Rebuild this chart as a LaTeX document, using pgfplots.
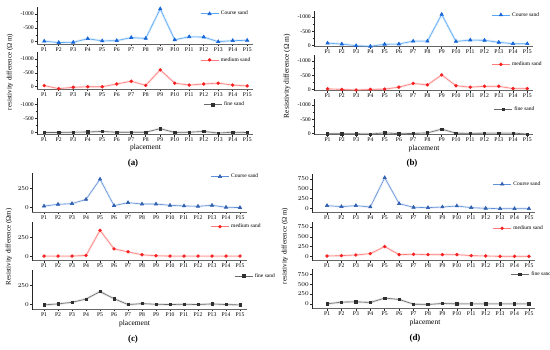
\documentclass[border=0pt]{standalone}
\usepackage{fontspec}
\setmainfont{Liberation Serif}
\usepackage{pgfplots}
\usepackage{pgfplotstable}
\pgfplotsset{compat=1.18}

\definecolor{cbL}{HTML}{5AA8F5}
\definecolor{cbM}{HTML}{1565D8}
\definecolor{cbbL}{HTML}{5F8FD6}
\definecolor{cbbM}{HTML}{2F5FAF}
\definecolor{crL}{HTML}{FF7A7A}
\definecolor{crM}{HTML}{F52020}
\definecolor{ckL}{HTML}{6A6A6A}
\definecolor{ckM}{HTML}{303030}

% panel (a): x c(coarse) m(medium) f(fine)
\pgfplotstableread{
x c m f
1 -20 -40 10
2 30 70 10
3 20 20 0
4 -110 0 -10
5 -30 0 -30
6 -40 -100 0
7 -150 -200 0
8 -120 -50 0
9 -1190 -610 -130
10 -70 -130 10
11 -180 -60 0
12 -170 -100 -30
13 0 -130 30
14 -40 -60 0
15 -50 -30 10
}\ta
% panel (b)
\pgfplotstableread{
x c m f
1 -80 -20 10
2 -50 0 10
3 10 20 10
4 30 0 20
5 -40 -10 -20
6 -50 -80 10
7 -150 -210 0
8 -150 -160 -20
9 -1090 -510 -150
10 -140 -130 -10
11 -190 -80 0
12 -180 -110 -10
13 -110 -110 -10
14 -60 -30 -10
15 -60 -30 20
}\tb
% panel (c)
\pgfplotstableread{
x c m f
1 20 0 -4
2 43 0 9
3 52 0 30
4 108 9 73
5 375 340 172
6 26 95 78
7 65 56 0
8 47 17 13
9 47 4 4
10 30 0 0
11 22 0 4
12 17 0 0
13 30 0 9
14 4 0 0
15 0 0 -4
}\tc
% panel (d)
\pgfplotstableread{
x c m f
1 69 9 0
2 43 17 43
3 69 34 52
4 34 69 34
5 784 250 147
6 120 43 112
7 26 52 -9
8 17 43 -17
9 34 43 9
10 60 43 0
11 17 17 0
12 0 9 0
13 -9 0 0
14 -9 0 0
15 -9 0 0
}\td

\pgfplotsset{
  sub/.style={scale only axis, anchor=south west, clip=false,
    axis x line=bottom, axis y line=left,
    x axis line style={-, line width=1bp, draw=black!60},
    y axis line style={-, line width=0.6bp, draw=black!85},
    xtick={1,...,15},
    xticklabels={P1,P2,P3,P4,P5,P6,P7,P8,P9,P10,P11,P12,P13,P14,P15},
    tick align=outside, major tick length=2bp, minor tick length=1.2bp,
    tick style={line width=0.5bp, black!85},
    ticklabel style={font=\fontsize{5.7}{6}\selectfont, inner sep=1bp},
    legend style={draw=none, fill=none, anchor=west,
      font=\fontsize{5.5}{6}\selectfont, inner sep=0pt},
    legend cell align=left,
    legend image code/.code={\draw[mark repeat=2,mark phase=2] plot coordinates {(0bp,0bp) (9bp,0bp) (18bp,0bp)};},
  },
  negy/.style={ytick={0,500,1000}, yticklabels={0,-500,-1000}, minor ytick={250,750}},
  posy/.style={yticklabel style={font=\fontsize{6.3}{7}\selectfont}},
  cband/.style={cbL, line width=2.4bp, opacity=0.22, forget plot},
  cs/.style={cbL, line width=0.6bp, mark=triangle*, mark size=1.9bp, mark options={fill=cbM, draw=cbM, solid}},
  ccband/.style={cbbL, line width=2.4bp, opacity=0.15, forget plot},
  ccs/.style={cbbL, line width=0.6bp, mark=triangle*, mark size=1.9bp, mark options={fill=cbbM, draw=cbbM, solid}},
  mband/.style={crL, line width=2.4bp, opacity=0.2, forget plot},
  ms/.style={crL, line width=0.6bp, mark=*, mark size=1.4bp, mark options={fill=crM, draw=crM, solid}},
  fband/.style={ckL, line width=2.4bp, opacity=0.18, forget plot},
  fs/.style={ckL, line width=0.6bp, mark=square*, mark size=1.2bp, mark options={fill=ckM, draw=ckM, solid}},
}

\begin{document}
\begin{tikzpicture}
\path[use as bounding box] (0bp,0bp) rectangle (550bp,350bp);

% ================= (a) =================
\begin{axis}[sub, negy, at={(37bp,305.5bp)}, width=216bp, height=37bp,
  xmin=0.5, xmax=15.4, ymin=-100, ymax=1240,
  legend style={at={(0.755,0.83)}}]
\addplot[cband] table[x=x, y expr=-\thisrow{c}] {\ta};
\addplot[cs] table[x=x, y expr=-\thisrow{c}] {\ta};
\addlegendentry{Course sand}
\end{axis}
\begin{axis}[sub, negy, at={(37bp,260.5bp)}, width=216bp, height=37bp,
  xmin=0.5, xmax=15.4, ymin=-100, ymax=1240,
  legend style={at={(0.755,0.80)}}]
\addplot[mband] table[x=x, y expr=-\thisrow{m}] {\ta};
\addplot[ms] table[x=x, y expr=-\thisrow{m}] {\ta};
\addlegendentry{medium sand}
\end{axis}
\begin{axis}[sub, negy, at={(37bp,215bp)}, width=216bp, height=37bp,
  xmin=0.5, xmax=15.4, ymin=-100, ymax=1240,
  legend style={at={(0.77,0.82)}}]
\addplot[fband] table[x=x, y expr=-\thisrow{f}] {\ta};
\addplot[fs] table[x=x, y expr=-\thisrow{f}] {\ta};
\addlegendentry{fine sand}
\end{axis}
\node[rotate=90, font=\fontsize{7}{8}\selectfont] at (10bp,278bp) {resistivity difference (Ω m)};
\node[font=\fontsize{7.5}{8}\selectfont] at (145.5bp,202bp) {placement};
\node[font=\fontsize{9}{10}\selectfont\bfseries] at (133bp,187bp) {(a)};

% ================= (b) =================
\begin{axis}[sub, negy, at={(314bp,303bp)}, width=219bp, height=36bp,
  xmin=0.05, xmax=15.4, ymin=-55, ymax=1210,
  legend style={at={(0.81,0.89)}}]
\addplot[cband] table[x=x, y expr=-\thisrow{c}] {\tb};
\addplot[cs] table[x=x, y expr=-\thisrow{c}] {\tb};
\addlegendentry{Course sand}
\end{axis}
\begin{axis}[sub, negy, at={(314bp,259bp)}, width=219bp, height=36bp,
  xmin=0.05, xmax=15.4, ymin=-55, ymax=1210,
  legend style={at={(0.81,0.74)}}]
\addplot[mband] table[x=x, y expr=-\thisrow{m}] {\tb};
\addplot[ms] table[x=x, y expr=-\thisrow{m}] {\tb};
\addlegendentry{medium sand}
\end{axis}
\begin{axis}[sub, negy, at={(314bp,215bp)}, width=219bp, height=36bp,
  xmin=0.05, xmax=15.4, ymin=-55, ymax=1210,
  legend style={at={(0.82,0.71)}}]
\addplot[fband] table[x=x, y expr=-\thisrow{f}] {\tb};
\addplot[fs] table[x=x, y expr=-\thisrow{f}] {\tb};
\addlegendentry{fine sand}
\end{axis}
\node[rotate=90, font=\fontsize{7.5}{8}\selectfont] at (287bp,274bp) {Resistivity difference (Ω m)};
\node[font=\fontsize{7.5}{8}\selectfont] at (424bp,201bp) {placement};
\node[font=\fontsize{9}{10}\selectfont\bfseries] at (412bp,187bp) {(b)};

% ================= (c) =================
\begin{axis}[sub, posy, at={(32bp,137.5bp)}, width=215bp, height=39bp,
  xmin=0.14, xmax=15.5, ymin=-65, ymax=450, ytick={0,250},
  legend style={at={(0.83,0.92)}}]
\addplot[ccband] table[x=x, y=c] {\tc};
\addplot[ccs] table[x=x, y=c] {\tc};
\addlegendentry{Course sand}
\end{axis}
\begin{axis}[sub, posy, at={(32bp,89bp)}, width=215bp, height=39bp,
  xmin=0.14, xmax=15.5, ymin=-65, ymax=450, ytick={0,250},
  legend style={at={(0.83,0.88)}}]
\addplot[mband] table[x=x, y=m] {\tc};
\addplot[ms] table[x=x, y=m] {\tc};
\addlegendentry{medium sand}
\end{axis}
\begin{axis}[sub, posy, at={(32bp,40.5bp)}, width=215bp, height=39bp,
  xmin=0.14, xmax=15.5, ymin=-65, ymax=450, ytick={0,250},
  legend style={at={(0.94,0.86)}}]
\addplot[fband] table[x=x, y=f] {\tc};
\addplot[fs] table[x=x, y=f] {\tc};
\addlegendentry{fine sand}
\end{axis}
\node[rotate=90, font=\fontsize{7}{8}\selectfont] at (9bp,103bp) {Resistivity difference (Ωm)};
\node[font=\fontsize{7.5}{8}\selectfont] at (134.5bp,26bp) {placement};
\node[font=\fontsize{9}{10}\selectfont\bfseries] at (133bp,11bp) {(c)};

% ================= (d) =================
\begin{axis}[sub, posy, at={(312bp,137bp)}, width=223bp, height=39bp,
  xmin=-0.04, xmax=15.42, ymin=-120, ymax=880, ytick={0,250,500,750},
  legend style={at={(0.81,0.74)}}]
\addplot[ccband] table[x=x, y=c] {\td};
\addplot[ccs] table[x=x, y=c] {\td};
\addlegendentry{Course sand}
\end{axis}
\begin{axis}[sub, posy, at={(312bp,89bp)}, width=223bp, height=39bp,
  xmin=-0.04, xmax=15.42, ymin=-120, ymax=880, ytick={0,250,500,750},
  legend style={at={(0.81,0.84)}}]
\addplot[mband] table[x=x, y=m] {\td};
\addplot[ms] table[x=x, y=m] {\td};
\addlegendentry{medium sand}
\end{axis}
\begin{axis}[sub, posy, at={(312bp,41.5bp)}, width=223bp, height=39bp,
  xmin=-0.04, xmax=15.42, ymin=-120, ymax=880, ytick={0,250,500,750},
  legend style={at={(0.89,0.88)}}]
\addplot[fband] table[x=x, y=f] {\td};
\addplot[fs] table[x=x, y=f] {\td};
\addlegendentry{fine sand}
\end{axis}
\node[rotate=90, font=\fontsize{7}{8}\selectfont] at (285bp,104bp) {resistivity difference (Ω m)};
\node[font=\fontsize{7.5}{8}\selectfont] at (425bp,27bp) {placement};
\node[font=\fontsize{9}{10}\selectfont\bfseries] at (415bp,12bp) {(d)};
\end{tikzpicture}
\end{document}
